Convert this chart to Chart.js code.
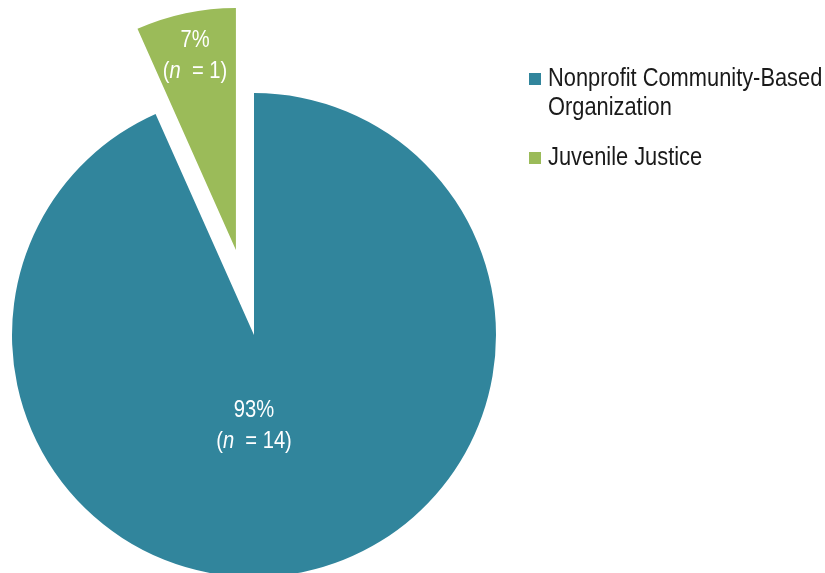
<!DOCTYPE html>
<html>
<head>
<meta charset="utf-8">
<script src="https://cdn.jsdelivr.net/npm/chart.js@4"></script>
<style>
    html, body { margin: 0; padding: 0; background: #fff; }
    #wrap { position: relative; width: 825px; height: 573px; }
</style>
</head>
<body>
<div id="wrap"><canvas id="pieChart" width="825" height="573"></canvas></div>
<script>
// datos del grafico
const categorias = ["Nonprofit Community-Based Organization", "Juvenile Justice"];
const lineasLeyenda = [["Nonprofit Community-Based", "Organization"], ["Juvenile Justice"]];
const cantidades = [14, 1];
const porcentajes = ["93%", "7%"];
const colores = ["#31859C", "#9BBB59"];
const separacion = [0, 87]; // porcion separada del centro (px)

const FUENTE = "'Liberation Sans Narrow', 'Arial Narrow', 'Liberation Sans', sans-serif";
const ESTRECHO = 0.84; // simula una fuente condensada

// pie con porciones separadas sin cambiar el radio ni el angulo
class PieSeparado extends Chart.PieController {
    draw() {
        const ctx = this.chart.ctx;
        const arcos = this._cachedMeta.data;
        arcos.forEach((arco, i) => {
            const d = separacion[i] || 0;
            const medio = (arco.startAngle + arco.endAngle) / 2;
            ctx.save();
            ctx.translate(Math.cos(medio) * d, Math.sin(medio) * d);
            arco.draw(ctx);
            ctx.restore();
        });
    }
}
PieSeparado.id = "pieSeparado";
PieSeparado.defaults = Chart.PieController.defaults;
Chart.register(PieSeparado);

function textoEstrecho(ctx, partes, x, y, alinear) {
    let ancho = 0;
    partes.forEach(p => { ctx.font = p.f; ancho += ctx.measureText(p.t).width; });
    let cx = alinear === "center" ? -ancho / 2 : 0;
    ctx.save();
    ctx.translate(x, y);
    ctx.scale(ESTRECHO, 1);
    ctx.textAlign = "left";
    partes.forEach(p => {
        ctx.font = p.f;
        ctx.fillText(p.t, cx, 0);
        cx += ctx.measureText(p.t).width;
    });
    ctx.restore();
}

// etiquetas dentro de cada porcion (posicion relativa al centro del arco)
const etiquetasPlugin = {
    id: "etiquetas",
    afterDatasetsDraw(chart) {
        const ctx = chart.ctx;
        const meta = chart.getDatasetMeta(0);
        const desplazamientos = [{ dx: 0, dy: 90 }, { dx: -59, dy: -280 }];
        meta.data.forEach((arco, i) => {
            const x = arco.x + desplazamientos[i].dx;
            const y = arco.y + desplazamientos[i].dy;
            ctx.save();
            ctx.fillStyle = "#ffffff";
            ctx.textBaseline = "middle";
            const normal = "24px " + FUENTE;
            textoEstrecho(ctx, [{ t: porcentajes[i], f: normal }], x, y - 15, "center");
            textoEstrecho(ctx, [
                { t: "(", f: normal },
                { t: "n", f: "italic " + normal },
                { t: "  = " + cantidades[i] + ")", f: normal }
            ], x, y + 16, "center");
            ctx.restore();
        });
    }
};

// leyenda a la derecha
const leyendaPlugin = {
    id: "leyendaDerecha",
    afterDraw(chart) {
        const ctx = chart.ctx;
        const x0 = 529;
        let y = 79;
        ctx.save();
        ctx.textBaseline = "middle";
        categorias.forEach((c, i) => {
            ctx.fillStyle = colores[i];
            ctx.fillRect(x0, y - 6, 12, 12);
            ctx.fillStyle = "#1a1a1a";
            lineasLeyenda[i].forEach((linea, j) => {
                textoEstrecho(ctx, [{ t: linea, f: "26px " + FUENTE }], x0 + 19, y + j * 29, "left");
            });
            y += lineasLeyenda[i].length * 29 + 21;
        });
        ctx.restore();
    }
};

new Chart(document.getElementById("pieChart"), {
    type: "pieSeparado",
    data: {
        labels: categorias,
        datasets: [{
            data: cantidades,
            backgroundColor: colores,
            borderWidth: 0,
            clip: false
        }]
    },
    options: {
        responsive: false,
        animation: false,
        radius: 242,
        layout: { padding: { left: 0, right: 317, top: 97, bottom: 0 } },
        plugins: {
            legend: { display: false },
            tooltip: { enabled: false }
        }
    },
    plugins: [etiquetasPlugin, leyendaPlugin]
});
</script>
</body>
</html>
